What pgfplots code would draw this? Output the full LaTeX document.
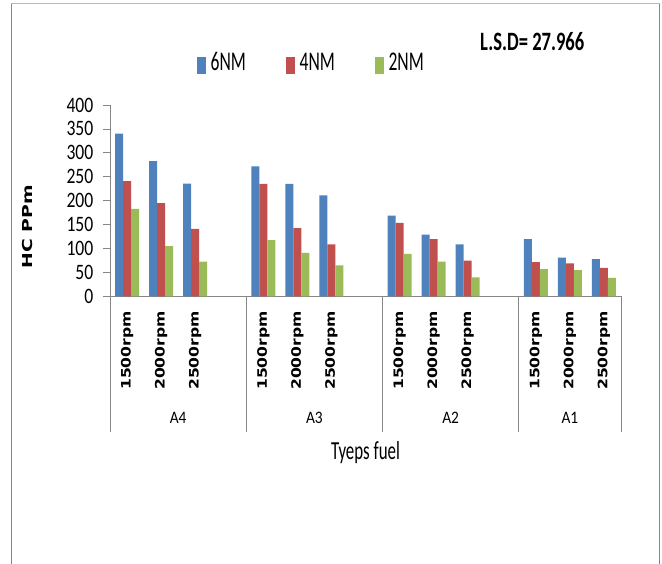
\documentclass[border=0pt]{standalone}
\usepackage{pgfplots}
\pgfplotsset{compat=1.18}
\usepackage{fontspec}
\setmainfont{Carlito}
\newfontfamily\tickfont[FakeStretch=0.8]{Carlito}
\newfontfamily\legfont[FakeStretch=0.65]{Carlito}
\newfontfamily\lsdfont[FakeStretch=0.7]{Carlito}
\newfontfamily\grpfont[FakeStretch=0.88]{Carlito}
\newfontfamily\titfont[FakeStretch=0.65]{Carlito}
\newfontfamily\rpmfont[FakeStretch=1.2]{DejaVu Sans}
\newfontfamily\hcfont[FakeStretch=1.37]{DejaVu Sans}
\definecolor{s6}{HTML}{4F81BD}
\definecolor{s4}{HTML}{C0504D}
\definecolor{s2}{HTML}{9BBB59}
\definecolor{axgray}{HTML}{868686}
\pgfplotsset{sq legend/.style={legend image code/.code={\path (0pt,0pt) (9pt,0pt);\fill[##1, overlay] (0pt,-3.5pt) rectangle (9pt,13.5pt);}}}
\begin{document}
\begin{tikzpicture}
\useasboundingbox (0,0) rectangle (662pt,564pt);
\draw[axgray, line width=1pt] (11.5pt,0) -- (11.5pt,560.2pt);
\draw[gray!55, line width=1.3pt] (11pt,560.2pt) -- (659.5pt,560.2pt);
\draw[axgray, line width=1pt] (659.2pt,560.2pt) -- (659.2pt,0);
\begin{axis}[
  at={(110pt,267.5pt)}, anchor=south west,
  scale only axis, width=511pt, height=191.5pt,
  xmin=-0.5, xmax=14.5, ymin=0, ymax=400,
  axis x line*=bottom, axis y line*=left,
  axis line style={axgray, line width=0.8pt, -},
  ybar, bar width=8pt,
  xtick={0,1,2,4,5,6,8,9,10,12,13,14},
  xticklabels={1500rpm,2000rpm,2500rpm,1500rpm,2000rpm,2500rpm,1500rpm,2000rpm,2500rpm,1500rpm,2000rpm,2500rpm},
  major x tick style={draw=none},
  xticklabel style={font=\rpmfont\bfseries\fontsize{13}{13}\selectfont, rotate=90, anchor=east, inner sep=0pt},
  xticklabel shift=7.5pt,
  ytick={0,50,...,400},
  tick align=outside, major tick length=7pt,
  ytick style={axgray, line width=0.8pt},
  yticklabel style={font=\tickfont\fontsize{22}{22}\selectfont, anchor=east, inner sep=0pt},
  yticklabel shift=9.5pt,
  /pgf/number format/assume math mode=true,
  ylabel={\hcfont\bfseries HC PPm},
  ylabel style={at={(axis description cs:-0.1605,0.3655)}, anchor=center, font=\fontsize{13.7}{13.7}\selectfont},
  xlabel={\titfont\fontsize{26}{26}\selectfont Tyeps fuel},
  xlabel style={at={(axis description cs:0.5,0)}, anchor=base, yshift=-162.8pt},
  clip=false,
  legend columns=3,
  legend style={at={(axis description cs:0.1703,1.172)}, anchor=south west, draw=none, fill=none, inner sep=0pt, outer sep=0pt,
    nodes={inner sep=0pt, anchor=base, font=\legfont\fontsize{27}{27}\selectfont},
    /tikz/every odd column/.append style={column sep=4.7pt},
    /tikz/every even column/.append style={column sep=40pt}},
]
\addplot[fill=s6, draw=none, bar shift=-8pt, sq legend] coordinates {(0,340) (1,283) (2,236) (4,272) (5,235) (6,211) (8,169) (9,129) (10,109) (12,120) (13,81) (14,78)};
\addplot[fill=s4, draw=none, bar shift=0pt, sq legend] coordinates {(0,241) (1,195) (2,141) (4,235) (5,143) (6,109) (8,154) (9,120) (10,75) (12,72) (13,69) (14,60)};
\addplot[fill=s2, draw=none, bar shift=8pt, sq legend] coordinates {(0,183) (1,105) (2,73) (4,118) (5,91) (6,65) (8,89) (9,73) (10,40) (12,57) (13,55) (14,39)};
\legend{6NM,4NM,2NM}
\draw[axgray, line width=0.8pt] (axis cs:-0.5,0) -- ++(0pt,-135.2pt);
\draw[axgray, line width=0.8pt] (axis cs:3.5,0) -- ++(0pt,-135.2pt);
\draw[axgray, line width=0.8pt] (axis cs:7.5,0) -- ++(0pt,-135.2pt);
\draw[axgray, line width=0.8pt] (axis cs:11.5,0) -- ++(0pt,-135.2pt);
\draw[axgray, line width=0.8pt] (axis cs:14.5,0) -- ++(0pt,-135.2pt);
\node[anchor=base, font=\grpfont\fontsize{17.5}{17.5}\selectfont] at ([yshift=-126.8pt]axis cs:1.5,0) {A4};
\node[anchor=base, font=\grpfont\fontsize{17.5}{17.5}\selectfont] at ([yshift=-126.8pt]axis cs:5.5,0) {A3};
\node[anchor=base, font=\grpfont\fontsize{17.5}{17.5}\selectfont] at ([yshift=-126.8pt]axis cs:9.5,0) {A2};
\node[anchor=base, font=\grpfont\fontsize{17.5}{17.5}\selectfont] at ([yshift=-126.8pt]axis cs:13,0) {A1};
\end{axis}
\node[anchor=base west, inner sep=0pt, font=\lsdfont\bfseries\fontsize{26.5}{26.5}\selectfont] at (480pt,513pt) {L.S.D= 27.966};
\end{tikzpicture}
\end{document}
